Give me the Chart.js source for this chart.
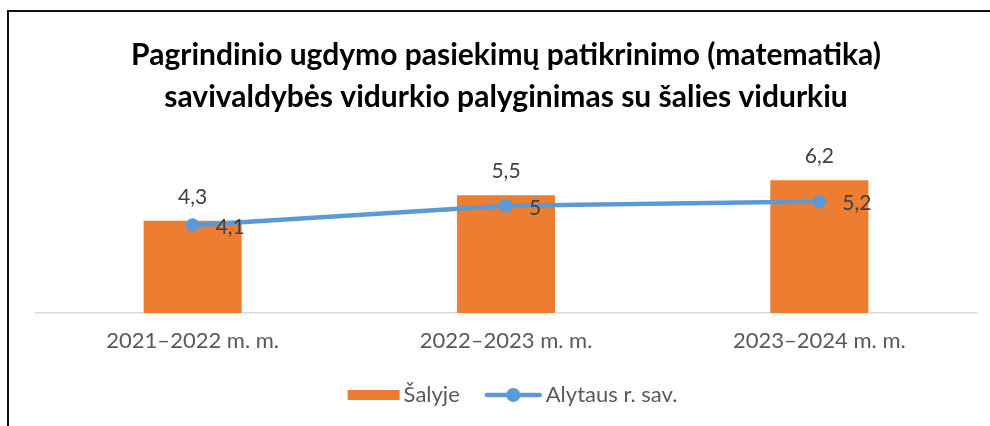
<!DOCTYPE html>
<html>
<head>
<meta charset="utf-8">
<script src="https://cdn.jsdelivr.net/npm/chart.js@4/dist/chart.umd.min.js"></script>
<style>
  html, body { margin: 0; padding: 0; background: #fff; overflow: hidden; }
  #wrap { position: relative; width: 990px; height: 426px; }
  #frame { position: absolute; left: 7px; top: 10px; width: 1000px; height: 500px;
           border: 2px solid #111; box-sizing: border-box; pointer-events: none; }
  canvas { position: absolute; left: 0; top: 0; }
</style>
</head>
<body>
<div id="wrap">
  <canvas id="chart" width="990" height="426"></canvas>
  <div id="frame"></div>
</div>
<script>
// Data
const titleLines = [
  'Pagrindinio ugdymo pasiekimų patikrinimo (matematika)',
  'savivaldybės vidurkio palyginimas su šalies vidurkiu'
];
const categories = ['2021–2022 m. m.', '2022–2023 m. m.', '2023–2024 m. m.'];
const countryValues = [4.3, 5.5, 6.2];     // Šalyje
const municipalityValues = [4.1, 5, 5.2];  // Alytaus r. sav.
const seriesNames = ['Šalyje', 'Alytaus r. sav.'];

const ORANGE = '#ED7D31';
const BLUE = '#5B9BD5';
const FONT = 'Lato, "Open Sans", sans-serif';

function fmt(v) {
  return String(v).replace('.', ',');
}

// legend symbols: content pushed to the right so the text sits close to it
function barSymbol() {
  const c = document.createElement('canvas');
  c.width = 80; c.height = 12;
  const g = c.getContext('2d');
  g.fillStyle = ORANGE;
  g.fillRect(24, 1, 52, 10);
  return c;
}
function lineSymbol() {
  const c = document.createElement('canvas');
  c.width = 80; c.height = 16;
  const g = c.getContext('2d');
  g.strokeStyle = BLUE;
  g.lineWidth = 4.5;
  g.lineCap = 'round';
  g.beginPath(); g.moveTo(21, 8); g.lineTo(74, 8); g.stroke();
  g.fillStyle = BLUE;
  g.beginPath(); g.arc(47.5, 8, 7, 0, Math.PI * 2); g.fill();
  return c;
}

// simple data label plugin
const valueLabels = {
  id: 'valueLabels',
  afterDatasetsDraw(chart) {
    const ctx = chart.ctx;
    ctx.save();
    ctx.font = '21px ' + FONT;
    ctx.fillStyle = '#404040';
    chart.data.datasets.forEach((ds, i) => {
      const meta = chart.getDatasetMeta(i);
      meta.data.forEach((el, j) => {
        const text = fmt(ds.data[j]);
        if (ds.type === 'line') {
          ctx.textAlign = 'left';
          ctx.textBaseline = 'middle';
          ctx.fillText(text, el.x + 23, el.y + 2);
        } else {
          ctx.textAlign = 'center';
          ctx.textBaseline = 'alphabetic';
          ctx.fillText(text, el.x, el.y - 17);
        }
      });
    });
    ctx.restore();
  }
};

const ctx = document.getElementById('chart').getContext('2d');
new Chart(ctx, {
  data: {
    labels: categories,
    datasets: [{
      type: 'bar',
      label: seriesNames[0],
      data: countryValues,
      backgroundColor: ORANGE,
      barPercentage: 0.313,
      categoryPercentage: 1,
      order: 1
    }, {
      type: 'line',
      label: seriesNames[1],
      data: municipalityValues,
      borderColor: BLUE,
      borderWidth: 4.5,
      backgroundColor: BLUE,
      pointRadius: 6.5,
      pointBorderWidth: 1,
      pointBackgroundColor: BLUE,
      tension: 0,
      order: 0
    }]
  },
  options: {
    responsive: false,
    animation: false,
    layout: { padding: { left: 36, right: 14, top: 34, bottom: 10 } },
    plugins: {
      title: {
        display: true,
        text: titleLines,
        color: '#000',
        font: { family: FONT, size: 30, weight: 'bold', lineHeight: 1.4 },
        padding: { top: 0, bottom: 45 }
      },
      legend: {
        position: 'bottom',
        labels: {
          usePointStyle: true,
          pointStyleWidth: 58,
          color: '#595959',
          font: { family: FONT, size: 22 },
          padding: 17,
          generateLabels() {
            return [
              { text: seriesNames[0], pointStyle: barSymbol(), fillStyle: ORANGE, strokeStyle: ORANGE, lineWidth: 0, fontColor: '#595959', datasetIndex: 0 },
              { text: seriesNames[1], pointStyle: lineSymbol(), fillStyle: BLUE, strokeStyle: BLUE, lineWidth: 0, fontColor: '#595959', datasetIndex: 1 }
            ];
          }
        }
      },
      tooltip: { enabled: false }
    },
    scales: {
      x: {
        grid: { display: false },
        border: { display: true, color: '#d9d9d9', width: 1.5 },
        ticks: { color: '#595959', font: { family: FONT, size: 22 }, padding: 7 },
        afterFit(scale) { scale.height = 54; }
      },
      y: {
        display: false,
        min: 0,
        max: 7
      }
    }
  },
  plugins: [valueLabels]
});
</script>
</body>
</html>
